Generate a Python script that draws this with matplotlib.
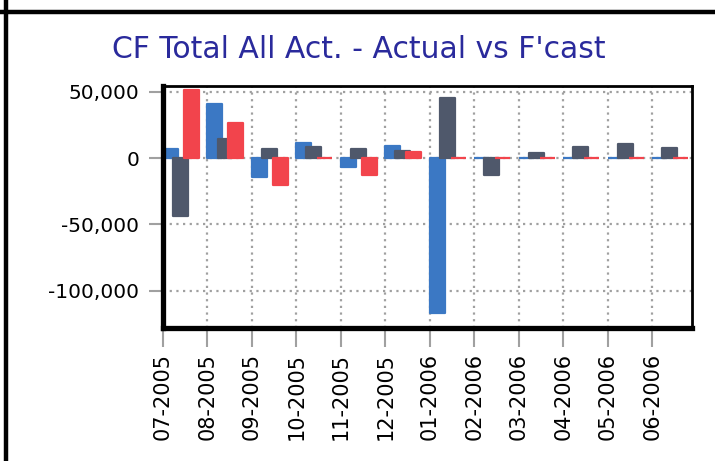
import matplotlib
matplotlib.use("Agg")
import matplotlib.pyplot as plt
from matplotlib.lines import Line2D
import numpy as np

months = ["07-2005", "08-2005", "09-2005", "10-2005", "11-2005", "12-2005",
          "01-2006", "02-2006", "03-2006", "04-2006", "05-2006", "06-2006"]
actual_blue = [6500, 40600, -14500, 11000, -6500, 9000, -116500, 0, 0, 0, 0, 0]
series_gray = [-43500, 14000, 6800, 8500, 6500, 5300, 45000, -12800, 4000, 8500, 10500, 7300]
forecast_red = [51000, 26500, -20300, 0, -12800, 4700, 0, 0, 0, 0, 0, 0]
yticks = [50000, 0, -50000, -100000]
ytick_labels = ["50,000", "0", "-50,000", "-100,000"]
title = "CF Total All Act. - Actual vs F'cast"

W, H = 715, 461
fig = plt.figure(figsize=(W / 100, H / 100), dpi=100)
ax = fig.add_axes([163 / W, 1 - 328 / H, (692 - 163) / W, (328 - 86) / H])

x = np.arange(len(months))
bw = 0.337
colors = ["#3b78c4", "#4f586b", "#f2444c"]
offsets = [0.0, 0.225, 0.47]
for k, (vals, c, off) in enumerate(zip([actual_blue, series_gray, forecast_red], colors, offsets)):
    ax.bar(x + off, vals, width=bw, align="edge", color=c, edgecolor=c,
           linewidth=1.6, joinstyle="round", zorder=3 + k)

ax.set_xlim(0, 11.89)
ax.set_ylim(-128000, 54300)
ax.set_yticks(yticks)
ax.set_yticklabels(ytick_labels, fontsize=14.5)
ax.set_xticks(x)
ax.set_xticklabels(months, rotation=90, fontsize=15, va="top")

ax.grid(True, color="#a0a0a0", linestyle=(0, (1, 2)), linewidth=1.6, zorder=1)
ax.set_axisbelow(True)
ax.tick_params(axis="y", direction="out", length=10, width=1.5, color="#a0a0a0", pad=7)
ax.tick_params(axis="x", direction="out", length=14, width=1.5, color="#a0a0a0", pad=4)

for side in ["left", "bottom"]:
    ax.spines[side].set_linewidth(3.8)
for side in ["top", "right"]:
    ax.spines[side].set_linewidth(2.0)
for sp in ax.spines.values():
    sp.set_color("black")
    sp.set_zorder(10)

fig.text(359 / W, 1 - 49 / H, title, ha="center", va="center",
         fontsize=21.5, color="#2a2a9c")

fig.add_artist(Line2D([0, 1], [1 - 12 / H, 1 - 12 / H], transform=fig.transFigure,
                      color="black", linewidth=3.2))
fig.add_artist(Line2D([6 / W, 6 / W], [0, 1], transform=fig.transFigure,
                      color="black", linewidth=3.2))

fig.savefig("out.png", dpi=100)
